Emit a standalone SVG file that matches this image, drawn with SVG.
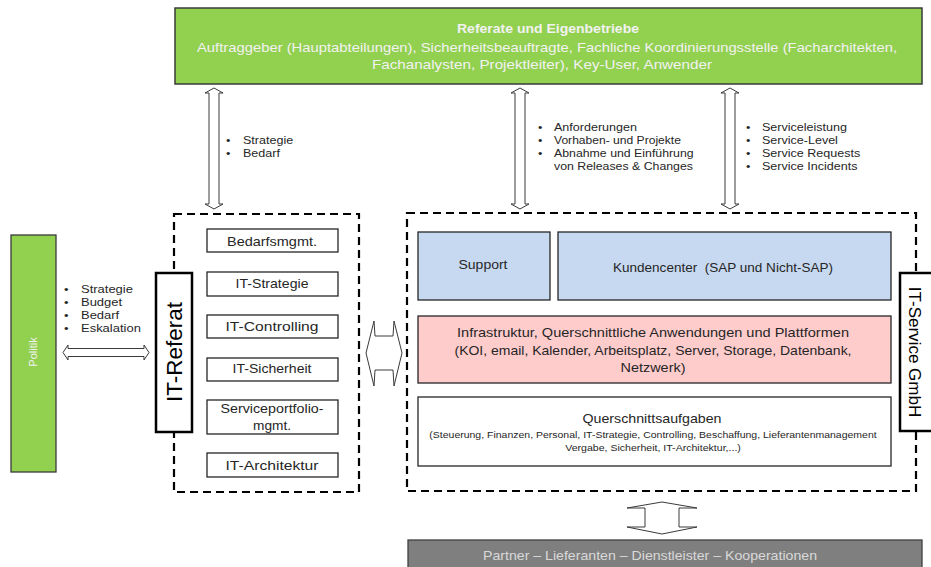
<svg xmlns="http://www.w3.org/2000/svg" width="931" height="567" viewBox="0 0 931 567">
<style>
text{font-family:"Liberation Sans",Arial,sans-serif;}
.box{fill:#ffffff;stroke:#262626;stroke-width:1.3;}
.dash{fill:none;stroke:#000000;stroke-width:2.2;stroke-dasharray:8,5;}
.arrow{fill:#ffffff;stroke:#3a3a3a;stroke-width:1;}
.lbl{font-size:13px;fill:#262626;text-anchor:middle;}
.small{font-size:9.2px;fill:#262626;text-anchor:middle;}
.list{font-size:11.2px;fill:#262626;}
.plist{font-size:11.2px;fill:#262626;}
.wt{fill:#f2f2f2;text-anchor:middle;}
</style>
<rect width="931" height="567" fill="#ffffff"/>

<g id="connectors">
  <path class="arrow" d="M214,88 L223,93 L219,93 L219,204 L223,204 L214,209 L205,204 L209,204 L209,93 L205,93 Z"/>
  <path class="arrow" d="M520,88 L529,93 L525,93 L525,204 L529,204 L520,209 L511,204 L515,204 L515,93 L511,93 Z"/>
  <path class="arrow" d="M730,88 L739,93 L735,93 L735,204 L739,204 L730,209 L721,204 L725,204 L725,93 L721,93 Z"/>
  <path class="arrow" d="M63,352.5 L68,345 L68,348.5 L144,348.5 L144,345 L149,352.5 L144,360 L144,356.5 L68,356.5 L68,360 Z"/>
  <path class="arrow" d="M366,353 L374,321 L375,336 L393,336 L394,321 L402,353 L394,386 L393,370 L375,370 L374,386 Z"/>
  <path class="arrow" d="M662,502 L697,508 L679,508 L679,527 L697,527 L662,534 L627,527 L645,527 L645,508 L627,508 Z"/>
</g>

<g id="referate">
  <rect x="175" y="8" width="747" height="76" fill="#92d050" stroke="#3a3a3a" stroke-width="1.5"/>
  <text class="wt" x="548" y="33" font-size="13" font-weight="bold" textLength="182" lengthAdjust="spacingAndGlyphs">Referate und Eigenbetriebe</text>
  <text class="wt" x="547" y="51.5" font-size="13.5" textLength="700" lengthAdjust="spacingAndGlyphs">Auftraggeber (Hauptabteilungen), Sicherheitsbeauftragte, Fachliche Koordinierungsstelle (Facharchitekten,</text>
  <text class="wt" x="542" y="68.5" font-size="13.5" textLength="340" lengthAdjust="spacingAndGlyphs">Fachanalysten, Projektleiter), Key-User, Anwender</text>
</g>

<g id="labels-top">
  <text class="list" transform="translate(226,144) scale(1.12,1)">•</text>
  <text class="list" transform="translate(243,144) scale(1.12,1)">Strategie</text>
  <text class="list" transform="translate(226,157) scale(1.12,1)">•</text>
  <text class="list" transform="translate(243,157) scale(1.12,1)">Bedarf</text>

  <text class="list" transform="translate(538,131) scale(1.12,1)">•</text>
  <text class="list" transform="translate(554,131) scale(1.12,1)">Anforderungen</text>
  <text class="list" transform="translate(538,144) scale(1.12,1)">•</text>
  <text class="list" transform="translate(554,144) scale(1.08,1)">Vorhaben- und Projekte</text>
  <text class="list" transform="translate(538,157) scale(1.12,1)">•</text>
  <text class="list" transform="translate(554,157) scale(1.1,1)">Abnahme und Einführung</text>
  <text class="list" transform="translate(554,170) scale(1.1,1)">von Releases &amp; Changes</text>

  <text class="list" transform="translate(746,131) scale(1.12,1)">•</text>
  <text class="list" transform="translate(762,131) scale(1.12,1)">Serviceleistung</text>
  <text class="list" transform="translate(746,144) scale(1.12,1)">•</text>
  <text class="list" transform="translate(762,144) scale(1.12,1)">Service-Level</text>
  <text class="list" transform="translate(746,157) scale(1.12,1)">•</text>
  <text class="list" transform="translate(762,157) scale(1.12,1)">Service Requests</text>
  <text class="list" transform="translate(746,170) scale(1.12,1)">•</text>
  <text class="list" transform="translate(762,170) scale(1.12,1)">Service Incidents</text>
</g>

<g id="politik">
  <rect x="11" y="235" width="45" height="237" fill="#92d050" stroke="#3a3a3a" stroke-width="1.3"/>
  <text transform="translate(37,352) rotate(-90)" font-size="11" class="wt">Politik</text>
</g>

<g id="labels-politik">
  <text class="plist" transform="translate(64,293) scale(1.16,1)">•</text>
  <text class="plist" transform="translate(81,293) scale(1.16,1)">Strategie</text>
  <text class="plist" transform="translate(64,306) scale(1.16,1)">•</text>
  <text class="plist" transform="translate(81,306) scale(1.16,1)">Budget</text>
  <text class="plist" transform="translate(64,319) scale(1.16,1)">•</text>
  <text class="plist" transform="translate(81,319) scale(1.16,1)">Bedarf</text>
  <text class="plist" transform="translate(64,332) scale(1.16,1)">•</text>
  <text class="plist" transform="translate(81,332) scale(1.16,1)">Eskalation</text>
</g>

<g id="it-referat-group">
  <rect class="dash" x="174" y="214" width="185" height="278"/>
</g>

<g id="it-referat">
  <rect x="156" y="273" width="36" height="159" fill="#ffffff" stroke="#000000" stroke-width="2.5"/>
  <text transform="translate(182,352) rotate(-90)" font-size="22.5" fill="#000000" text-anchor="middle">IT-Referat</text>
</g>

<g id="bedarfsmgmt">
  <rect class="box" x="207" y="229" width="131" height="23"/>
  <text class="lbl" x="272" y="246" textLength="90" lengthAdjust="spacingAndGlyphs">Bedarfsmgmt.</text>
</g>
<g id="it-strategie">
  <rect class="box" x="207" y="272" width="131" height="24"/>
  <text class="lbl" x="272" y="288" textLength="73" lengthAdjust="spacingAndGlyphs">IT-Strategie</text>
</g>
<g id="it-controlling">
  <rect class="box" x="207" y="315" width="131" height="23"/>
  <text class="lbl" x="272" y="331" textLength="93" lengthAdjust="spacingAndGlyphs">IT-Controlling</text>
</g>
<g id="it-sicherheit">
  <rect class="box" x="207" y="358" width="131" height="23"/>
  <text class="lbl" x="272" y="373" textLength="79" lengthAdjust="spacingAndGlyphs">IT-Sicherheit</text>
</g>
<g id="serviceportfolio">
  <rect class="box" x="207" y="400" width="131" height="34"/>
  <text class="lbl" x="272" y="413" textLength="103" lengthAdjust="spacingAndGlyphs">Serviceportfolio-</text>
  <text class="lbl" x="272" y="430" textLength="38" lengthAdjust="spacingAndGlyphs">mgmt.</text>
</g>
<g id="it-architektur">
  <rect class="box" x="207" y="453" width="131" height="24"/>
  <text class="lbl" x="272" y="470" textLength="93" lengthAdjust="spacingAndGlyphs">IT-Architektur</text>
</g>

<g id="it-service-group">
  <rect class="dash" x="407" y="213" width="509" height="278"/>
</g>

<g id="support">
  <rect x="418" y="232" width="132" height="68" fill="#c6d9f1" stroke="#262626" stroke-width="1.3"/>
  <text class="lbl" x="483" y="269" textLength="49" lengthAdjust="spacingAndGlyphs">Support</text>
</g>
<g id="kundencenter">
  <rect x="558" y="232" width="333" height="68" fill="#c6d9f1" stroke="#262626" stroke-width="1.3"/>
  <text class="lbl" x="723" y="272" textLength="220" lengthAdjust="spacingAndGlyphs" xml:space="preserve">Kundencenter  (SAP und Nicht-SAP)</text>
</g>
<g id="infrastruktur">
  <rect x="418" y="316" width="473" height="67" fill="#ffcccc" stroke="#262626" stroke-width="1.3"/>
  <text class="lbl" x="653" y="337" textLength="392" lengthAdjust="spacingAndGlyphs">Infrastruktur, Querschnittliche Anwendungen und Plattformen</text>
  <text class="lbl" x="653" y="355" textLength="397" lengthAdjust="spacingAndGlyphs">(KOI, email, Kalender, Arbeitsplatz, Server, Storage, Datenbank,</text>
  <text class="lbl" x="653" y="372" textLength="65" lengthAdjust="spacingAndGlyphs">Netzwerk)</text>
</g>
<g id="querschnittsaufgaben">
  <rect class="box" x="418" y="397" width="473" height="69"/>
  <text class="lbl" x="652" y="423" textLength="139" lengthAdjust="spacingAndGlyphs">Querschnittsaufgaben</text>
  <text class="small" transform="translate(653,437.5) scale(1.14,1)">(Steuerung, Finanzen, Personal, IT-Strategie, Controlling, Beschaffung, Lieferantenmanagement</text>
  <text class="small" transform="translate(653,451) scale(1.15,1)">Vergabe, Sicherheit, IT-Architektur,...)</text>
</g>

<g id="it-service">
  <rect x="900" y="273" width="40" height="158" fill="#ffffff" stroke="#000000" stroke-width="2.5"/>
  <text transform="translate(909,352) rotate(90)" font-size="17" fill="#000000" text-anchor="middle">IT-Service GmbH</text>
</g>

<g id="partner">
  <rect x="408" y="540" width="514" height="35" fill="#7f7f7f" stroke="#404040" stroke-width="1.3"/>
  <text x="650" y="560" font-size="13" fill="#d9d9d9" text-anchor="middle" textLength="334" lengthAdjust="spacingAndGlyphs">Partner – Lieferanten – Dienstleister – Kooperationen</text>
</g>
</svg>
